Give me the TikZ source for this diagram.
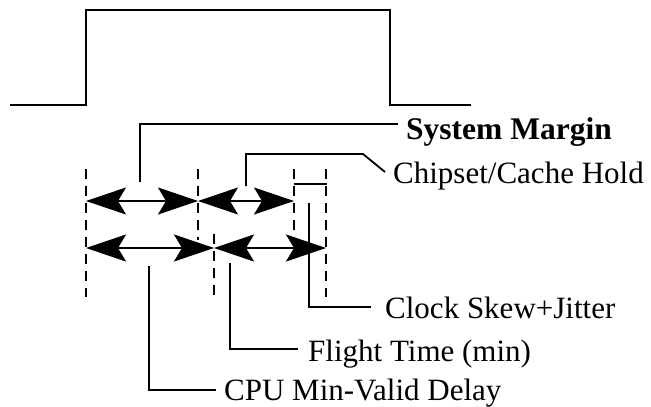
\documentclass[tikz,border=0pt]{standalone}
\usepackage{fontspec}
\setmainfont{Liberation Serif}
\usetikzlibrary{arrows.meta}
\begin{document}
\begin{tikzpicture}[x=1pt,y=-1pt,
  sig/.style={line width=2pt,line join=miter},
  lead/.style={line width=1.8pt,line join=miter},
  guide/.style={line width=2.6pt,dash pattern=on 10pt off 7pt},
  span/.style={line width=1.8pt,{Stealth[length=40pt,width=27pt,inset=8pt]}-{Stealth[length=40pt,width=27pt,inset=8pt]}},
  lbl/.style={anchor=base west,inner sep=0pt,font=\fontsize{31}{35}\selectfont},
  blbl/.style={anchor=base west,inner sep=0pt,font=\fontsize{31.5}{35}\selectfont\bfseries}]
\useasboundingbox (0,0) rectangle (651,407);
% pulse
\coordinate (p0) at (10,105);
\coordinate (p1) at (86,105);
\coordinate (p2) at (86,9.5);
\coordinate (p3) at (390,9.5);
\coordinate (p4) at (390,105);
\coordinate (p5) at (471,105);
\draw[sig] (p0) -- (p1) -- (p2) -- (p3) -- (p4) -- (p5);
% guide lines
\coordinate (g1a) at (86,169);  \coordinate (g1b) at (86,297);
\coordinate (g2a) at (198,169); \coordinate (g2b) at (198,240);
\coordinate (g3a) at (214,234); \coordinate (g3b) at (214,297);
\coordinate (g4a) at (294,169); \coordinate (g4b) at (294,233);
\coordinate (g5a) at (326,169); \coordinate (g5b) at (326,297);
\draw[guide] (g1a) -- (g1b);
\draw[guide] (g2a) -- (g2b);
\draw[guide] (g3a) -- (g3b);
\draw[guide] (g4a) -- (g4b);
\draw[guide] (g5a) -- (g5b);
% spans
\coordinate (r1a) at (86,201);  \coordinate (r1b) at (198,201); \coordinate (r1c) at (294,201);
\coordinate (r2a) at (86,248);  \coordinate (r2b) at (214,248); \coordinate (r2c) at (326,248);
\draw[span] (r1a) -- (r1b);
\draw[span] (r1b) -- (r1c);
\draw[span] (r2a) -- (r2b);
\draw[span] (r2b) -- (r2c);
% clock skew marker
\coordinate (cs1) at (294,184); \coordinate (cs2) at (327,184);
\draw[lead] (cs1) -- (cs2);
% labels
\node[blbl] (sm) at (406,139) {System Margin};
\node[lbl] (ch) at (393,183) {Chipset/Cache Hold};
\node[lbl] (ck) at (385,318) {Clock Skew+Jitter};
\node[lbl] (ft) at (308,361) {Flight Time (min)};
\node[lbl] (cpu) at (224,400) {CPU Min-Valid Delay};
% leaders
\coordinate (l1a) at (140,182); \coordinate (l1b) at (140,124); \coordinate (l1c) at (398,124);
\draw[lead] (l1a) -- (l1b) -- (l1c);
\coordinate (l2a) at (246,186); \coordinate (l2b) at (246,154); \coordinate (l2c) at (363,154); \coordinate (l2d) at (385,172);
\draw[lead] (l2a) -- (l2b) -- (l2c) -- (l2d);
\coordinate (l3a) at (309,203); \coordinate (l3b) at (309,307); \coordinate (l3c) at (371,307);
\draw[lead] (l3a) -- (l3b) -- (l3c);
\coordinate (l4a) at (230,263); \coordinate (l4b) at (230,349); \coordinate (l4c) at (298,349);
\draw[lead] (l4a) -- (l4b) -- (l4c);
\coordinate (l5a) at (149,266); \coordinate (l5b) at (149,390); \coordinate (l5c) at (216,390);
\draw[lead] (l5a) -- (l5b) -- (l5c);
\end{tikzpicture}
\end{document}
